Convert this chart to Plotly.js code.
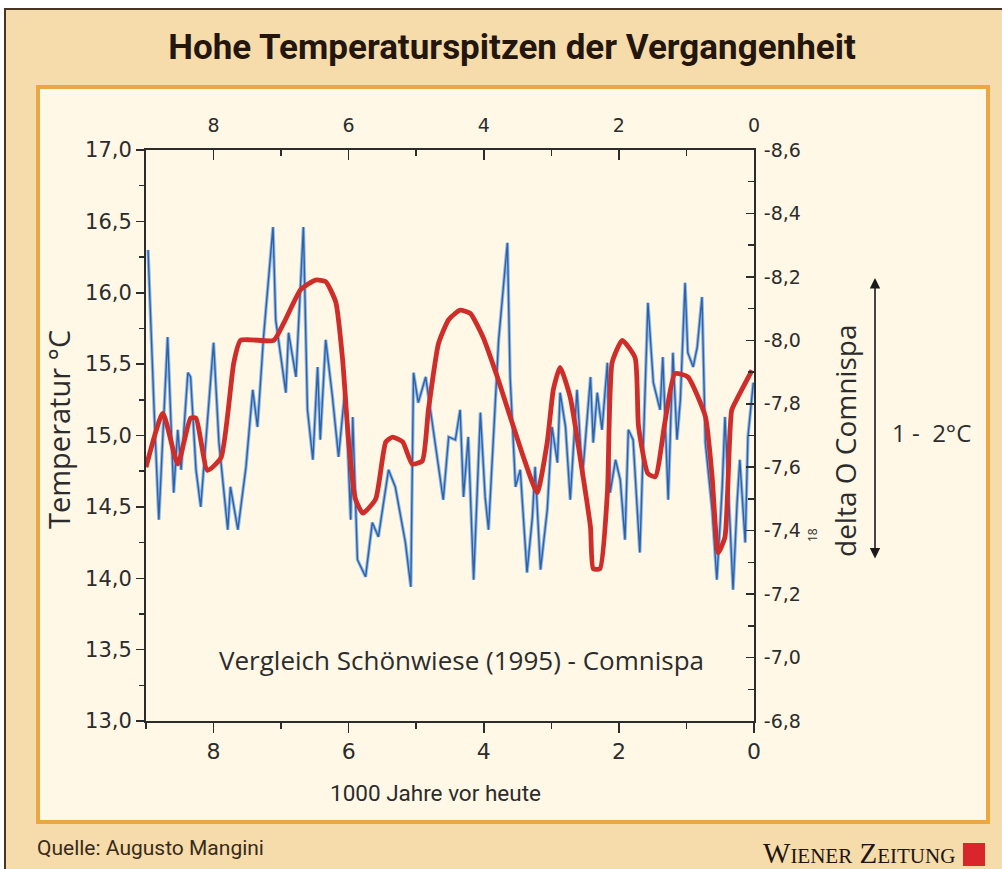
<!DOCTYPE html>
<html>
<head>
<meta charset="utf-8">
<script src="https://cdn.plot.ly/plotly-3.0.1.min.js"></script>
<style>html,body{margin:0;padding:0;background:#fff;}#chart{width:1002px;height:869px;}</style>
</head>
<body>
<div id="chart"></div>
<script>
// Schönwiese temperature reconstruction (thousand years before present, °C)
const blueYears = [8.97,8.93,8.88,8.81,8.68,8.59,8.53,8.48,8.38,8.34,8.26,8.19,8.07,8.00,7.92,7.79,7.75,7.64,7.52,7.42,7.35,7.26,7.12,7.08,6.93,6.89,6.78,6.67,6.61,6.53,6.46,6.42,6.34,6.24,6.15,6.05,5.97,5.94,5.87,5.75,5.65,5.56,5.41,5.31,5.16,5.08,5.04,4.97,4.86,4.60,4.52,4.42,4.35,4.30,4.23,4.15,4.05,3.98,3.93,3.86,3.78,3.71,3.65,3.61,3.53,3.46,3.36,3.28,3.24,3.16,3.06,2.99,2.91,2.87,2.79,2.72,2.62,2.54,2.42,2.38,2.32,2.25,2.17,2.13,2.05,1.98,1.91,1.86,1.79,1.69,1.58,1.57,1.49,1.39,1.35,1.27,1.20,1.14,1.09,1.02,0.98,0.90,0.84,0.77,0.72,0.62,0.55,0.47,0.43,0.35,0.31,0.25,0.21,0.13,0.09,0.01];
const blueTemp = [16.30,15.74,15.18,14.41,15.69,14.60,15.04,14.76,15.44,15.41,14.76,14.50,15.27,15.65,14.95,14.34,14.64,14.34,14.78,15.32,15.06,15.69,16.46,15.81,15.30,15.72,15.41,16.46,15.18,14.83,15.48,14.97,15.67,15.27,14.85,15.34,14.41,15.13,14.13,14.01,14.39,14.29,14.76,14.64,14.25,13.94,15.44,15.23,15.41,14.55,14.99,14.97,15.18,14.57,14.99,13.99,15.16,14.57,14.34,14.95,15.67,16.04,16.35,15.41,14.64,14.76,14.04,14.43,14.78,14.06,14.48,15.06,14.81,15.30,15.06,14.55,15.32,14.71,15.41,14.95,15.30,15.04,15.51,14.60,14.83,14.69,14.27,15.04,14.97,14.18,15.65,15.93,15.37,15.18,15.55,14.55,15.58,14.97,15.25,16.07,15.58,15.48,15.62,15.97,14.95,14.48,13.99,14.64,15.13,14.36,13.92,14.53,14.83,14.25,14.99,15.37];

// Comnispa delta 18O (per mil)
const redYears = [9.00,8.75,8.53,8.34,8.26,8.09,7.89,7.70,7.60,7.11,6.96,6.71,6.49,6.34,6.19,6.09,6.00,5.90,5.79,5.60,5.45,5.35,5.20,5.06,4.91,4.82,4.67,4.52,4.35,4.20,4.01,3.80,3.61,3.41,3.21,3.06,2.97,2.87,2.72,2.53,2.42,2.38,2.28,2.17,2.10,1.95,1.76,1.71,1.57,1.46,1.32,1.17,0.98,0.72,0.62,0.53,0.43,0.33,0.24,0.03];
const redDelta = [-7.60,-7.77,-7.61,-7.755,-7.755,-7.59,-7.63,-7.93,-8.00,-8.00,-8.055,-8.16,-8.19,-8.185,-8.12,-7.94,-7.68,-7.50,-7.455,-7.50,-7.68,-7.695,-7.68,-7.61,-7.62,-7.78,-7.99,-8.065,-8.095,-8.085,-8.01,-7.885,-7.76,-7.63,-7.52,-7.68,-7.845,-7.915,-7.82,-7.57,-7.41,-7.28,-7.28,-7.52,-7.93,-8.00,-7.945,-7.73,-7.58,-7.57,-7.74,-7.895,-7.885,-7.76,-7.57,-7.33,-7.38,-7.78,-7.82,-7.905];

const xTickVals = [8,6,4,2,0];
const xTickText = ['8','6','4','2','0'];
const rightTickVals = [-8.6,-8.4,-8.2,-8.0,-7.8,-7.6,-7.4,-7.2,-7.0,-6.8];
const rightTickText = ['-8,6','-8,4','-8,2','-8,0','-7,8','-7,6','-7,4','-7,2','-7,0','-6,8'];

const W = 1002, H = 869;
const px = v => v / W;
const py = v => 1 - v / H;

const tickFam = 'DejaVu Sans, sans-serif';
const narrow = 'Roboto, Liberation Sans, sans-serif';
const sans = 'Open Sans, Noto Sans, sans-serif';
const ink = '#2c2c2c';
const tf = size => ({family: tickFam, size: size, color: ink});

const traces = [
  {x: blueYears, y: blueTemp, xaxis: 'x', yaxis: 'y', mode: 'lines', type: 'scatter',
   line: {color: '#93b9e4', width: 3.4}, hoverinfo: 'skip', showlegend: false},
  {x: blueYears, y: blueTemp, xaxis: 'x', yaxis: 'y', mode: 'lines', type: 'scatter',
   line: {color: '#2d62a8', width: 1.4}, name: 'Schönwiese (1995)', showlegend: false},
  {x: redYears, y: redDelta, xaxis: 'x2', yaxis: 'y2', mode: 'lines', type: 'scatter',
   line: {color: '#cf2d2a', width: 4.8, shape: 'spline', smoothing: 0.5}, name: 'Comnispa', showlegend: false}
];

const axisLine = {showline: true, linecolor: ink, linewidth: 2, showgrid: false, zeroline: false};

const ann = (text, x, y, font, extra) => Object.assign({
  text: text, xref: 'paper', yref: 'paper', x: px(x), y: py(y),
  xanchor: 'center', yanchor: 'middle', showarrow: false, font: font
}, extra || {});

const layout = {
  width: W, height: H,
  margin: {l: 0, r: 0, t: 0, b: 0},
  paper_bgcolor: '#ffffff',
  plot_bgcolor: 'rgba(0,0,0,0)',
  separators: ',.',
  showlegend: false,
  title: {text: 'Hohe Temperaturspitzen der Vergangenheit', x: px(512), xanchor: 'center', y: py(47), yanchor: 'middle',
          font: {family: narrow, size: 35, color: '#24160c', weight: 'bold'}},
  xaxis: Object.assign({}, axisLine, {
    domain: [px(146), px(754)], range: [9, 0], anchor: 'y', side: 'bottom',
    tickmode: 'array', tickvals: xTickVals, ticktext: xTickText,
    ticks: 'outside', ticklen: 10, tickwidth: 1.5, tickcolor: ink,
    minor: {tickmode: 'linear', tick0: 1, dtick: 1, ticks: 'outside', ticklen: 6, tickwidth: 1.5, tickcolor: ink},
    tickfont: tf(22)
  }),
  xaxis2: Object.assign({}, axisLine, {
    domain: [px(146), px(754)], range: [9, 0], anchor: 'y2', side: 'top', overlaying: 'x',
    tickmode: 'array', tickvals: xTickVals, ticktext: xTickText,
    ticks: 'inside', ticklen: 10, tickwidth: 1.5, tickcolor: ink,
    minor: {tickmode: 'linear', tick0: 1, dtick: 1, ticks: 'inside', ticklen: 6, tickwidth: 1.5, tickcolor: ink},
    ticklabelstandoff: 8,
    tickfont: tf(19)
  }),
  yaxis: Object.assign({}, axisLine, {
    domain: [py(721), py(150)], range: [13, 17], anchor: 'x', side: 'left',
    dtick: 0.5, tick0: 13, tickformat: '.1f',
    ticks: 'outside', ticklen: 8, tickwidth: 1.5, tickcolor: ink,
    minor: {dtick: 0.25, ticks: 'outside', ticklen: 5, tickwidth: 1.5, tickcolor: ink},
    tickfont: tf(21)
  }),
  yaxis2: Object.assign({}, axisLine, {
    domain: [py(721), py(150)], range: [-6.8, -8.6], anchor: 'x2', side: 'right', overlaying: 'y',
    tickmode: 'array', tickvals: rightTickVals, ticktext: rightTickText,
    ticks: 'inside', ticklen: 8, tickwidth: 1.5, tickcolor: ink,
    minor: {tickmode: 'linear', tick0: -8.7, dtick: 0.2, ticks: 'inside', ticklen: 6, tickwidth: 1.5, tickcolor: ink},
    ticklabelstandoff: 4,
    tickfont: tf(19)
  }),
  shapes: [
    {type: 'rect', xref: 'paper', yref: 'paper', x0: px(5), x1: 1.02, y0: -0.02, y1: py(9),
     fillcolor: '#f5dcaa', line: {color: '#4a3520', width: 2}, layer: 'below'},
    {type: 'rect', xref: 'paper', yref: 'paper', x0: px(38), x1: px(988), y0: py(822), y1: py(87),
     fillcolor: '#fff8e6', line: {color: '#e9a844', width: 4}, layer: 'below'},
    {type: 'rect', xref: 'paper', yref: 'paper', x0: px(963), x1: px(985), y0: py(866), y1: py(843),
     fillcolor: '#d8262c', line: {width: 0}, layer: 'above'}
  ],
  annotations: [
    ann('Temperatur °C', 58, 430, {family: sans, size: 29, color: ink}, {textangle: -90}),
    ann('delta O Comnispa', 845, 441, {family: sans, size: 28, color: ink}, {textangle: -90}),
    ann('18', 812, 535, {family: sans, size: 12, color: ink}, {textangle: -90}),
    ann('1 -  2°C', 931, 432, {family: sans, size: 24, color: ink}),
    {text: '', xref: 'paper', yref: 'paper', x: px(875), y: py(278), ax: 0, ay: 282,
     showarrow: true, arrowside: 'end+start', arrowhead: 2, arrowsize: 1.3, arrowwidth: 1.6, arrowcolor: '#1a1a1a'},
    ann('Vergleich Schönwiese (1995) - Comnispa', 461, 660, {family: sans, size: 26, color: ink}),
    ann('1000 Jahre vor heute', 435, 793, {family: narrow, size: 22.5, color: ink}),
    ann('Quelle: Augusto Mangini', 35, 848, {family: narrow, size: 21, color: '#3a2a1a'}, {xanchor: 'left'}),
    ann('W<span style="font-size:21px">IENER</span> Z<span style="font-size:21px">EITUNG</span>', 957, 853,
        {family: 'Liberation Serif, DejaVu Serif, serif', size: 29, color: '#1e1410'}, {xanchor: 'right'})
  ]
};

Plotly.newPlot('chart', traces, layout, {displayModeBar: false, staticPlot: true});
</script>
</body>
</html>
